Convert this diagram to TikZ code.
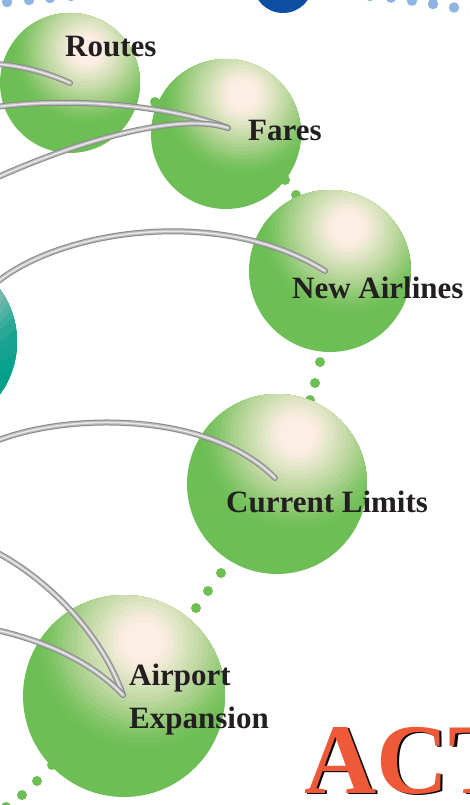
\documentclass[tikz,border=0pt]{standalone}
\usepackage{fontspec}
\setmainfont{Liberation Serif}
\begin{document}
% palette
\definecolor{sphgreen}{HTML}{6DBE54}
\definecolor{sphteal}{HTML}{00A08A}
\definecolor{dotgreen}{HTML}{6DBE54}
\definecolor{dotblue}{HTML}{8DB4E2}
\definecolor{navy}{HTML}{0B4EA2}
\definecolor{tubeedge}{HTML}{8A8A8A}
\definecolor{tubebody}{HTML}{B8B8B8}
\definecolor{tubeshine}{HTML}{E8E8E8}
\definecolor{ink}{HTML}{231F20}
\definecolor{actred}{HTML}{EE5A38}
% Stepped sphere shading: concentric rings around a highlight point,
% drawn largest first. Args: hx, hy, unit length, ring list macro.
\newcommand\ringshade[4]{%
  \foreach \d/\c in #4 {%
    \definecolor{ringcol}{HTML}{\c}%
    \fill[ringcol] (#1,#2) circle ({#3*\d});
  }}
\newcommand\greenrings{1.05/70BF57, 1.0/75C15C, 0.95/7DC363, 0.9/85C66B,
  0.85/8FC974, 0.8/99CC7D, 0.75/A3CF86, 0.7/ADD290, 0.65/B6D699,
  0.6/C0D9A2, 0.55/C8DCAB, 0.5/D0DFB3, 0.45/D8E2BC, 0.4/E0E5C5,
  0.35/E8E8CE, 0.3/F0EAD6, 0.25/F7ECDD, 0.2/FDEEE4}
\newcommand\tealrings{135/03A08B, 120/08A18C, 110/12A28F, 100/1AA391,
  91/2AA897, 82/3AAE9C, 76/4EB2A1, 70/62B5A6, 63/78B9AC, 56/8FBDB2,
  48/A0C6BB, 40/B0D0C6, 20/D8E6E0}
\begin{tikzpicture}[x=1pt,y=-1pt,
  ball/.style={circle, inner sep=0pt, fill=sphgreen},
  tealball/.style={circle, inner sep=0pt, fill=sphteal},
  gdot/.style={circle, fill=dotgreen, inner sep=0pt, minimum size=10pt},
  bdot/.style={circle, fill=dotblue, inner sep=0pt, minimum size=10.5pt},
  tube/.style={draw=tubeedge, line width=6pt, line cap=round,
    postaction={draw=tubebody, line width=4pt, line cap=round},
    postaction={draw=tubeshine, line width=1.5pt, line cap=round}},
  tag/.style={font=\fontsize{31}{31}\selectfont\bfseries, text=ink,
    inner sep=0pt, anchor=base west},
  bigword/.style={font=\fontsize{100}{100}\selectfont\bfseries,
    inner sep=0pt, anchor=base west}]
\useasboundingbox (0,0) rectangle (470,805);
\clip (0,0) rectangle (470,805);

% hub and blue dotted ring along the top
\node[circle, fill=navy, inner sep=0pt, minimum size=60pt] (hub) at (283,-17) {};
\foreach \px/\py [count=\i] in {7/2, 29/0, 50/-2, 71/-4,
    370/-4, 391/-2.3, 412/0.7, 433/4, 454/7.5, 475/11}
  \node[bdot] (bd\i) at (\px,\py) {};

% teal sphere at the left edge
\node[tealball, minimum size=180pt] (tealS) at (-73,342) {};
\begin{scope}
  \clip (-73,342) circle (90);
  \ringshade{-50}{265}{1}{\tealrings}
\end{scope}

% green dotted ring (some dots tuck behind the spheres)
\foreach \px/\py [count=\i] in {155/102, 285/180, 296/195, 320/362, 315/383,
    310/400, 221/573, 208/591, 196/608, 52/765, 37/781, 22/795, 6/807}
  \node[gdot] (gd\i) at (\px,\py) {};

% green spheres, each with its highlight rings clipped to the ball
\foreach \nm/\cx/\cy/\r/\hx/\hy in {sRoutes/70/83/70/87/50,
    sFares/226/134/75/243/95, sNew/330/271/81/348/228,
    sLimits/277/484/90/297/435, sAirport/124/696/101/143/642} {
  \node[ball, minimum size=2*\r pt] (\nm) at (\cx,\cy) {};
  \begin{scope}
    \clip (\cx,\cy) circle (\r);
    \ringshade{\hx}{\hy}{\r}{\greenrings}
  \end{scope}
}

% tube end points
\coordinate (eRoutes) at (70,83);
\coordinate (eFares) at (228,128);
\coordinate (eNew) at (325,271);
\coordinate (eLimits) at (275,478);
\coordinate (eAirport) at (123,695);
\coordinate (t1) at (-4,64);
\coordinate (t2) at (-4,107);
\coordinate (t3) at (-4,178);
\coordinate (t4) at (-4,283);
\coordinate (t5) at (-4,441);
\coordinate (t6) at (-4,552);
\coordinate (t7) at (-4,630);

% silver tubes
\draw[tube] (t1) .. controls (25,66) and (50,74) .. (eRoutes);
\draw[tube] (t2) .. controls (70,97) and (170,105) .. (eFares);
\draw[tube] (t3) .. controls (80,140) and (180,112) .. (eFares);
\draw[tube] (t4) .. controls (60,230) and (220,205) .. (eNew);
\draw[tube] (t5) .. controls (70,412) and (210,412) .. (eLimits);
\draw[tube] (t6) .. controls (45,578) and (100,630) .. (eAirport);
\draw[tube] (t7) .. controls (50,642) and (95,665) .. (eAirport);

% labels
\node[tag] (lRoutes) at (65,57) {Routes};
\node[tag] (lFares) at (248,141) {Fares};
\node[tag] (lNew) at (292,298) {New Airlines};
\node[tag] (lLimits) at (226,512) {Current Limits};
\node[tag] (lAirport) at (129,685) {Airport};
\node[tag] (lExpansion) at (129,728) {Expansion};

% title word with its dark drop shadow
\node[bigword, text=actred] (act) at (304,793)
  {\rlap{\kern2.5pt\raisebox{-1.5pt}{\color{black}ACT}}ACT};
\end{tikzpicture}
\end{document}
